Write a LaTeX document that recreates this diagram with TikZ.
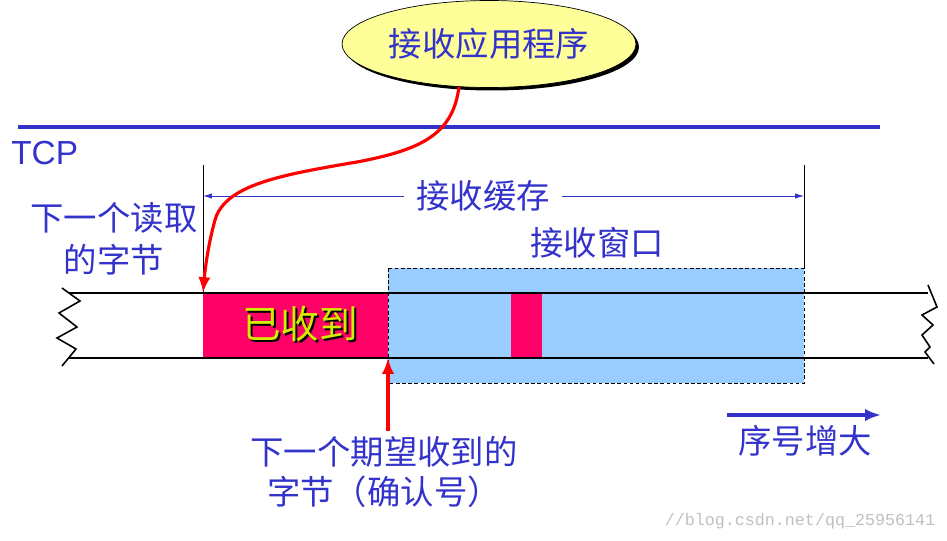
\documentclass[tikz,border=0pt]{standalone}
\usepackage{fontspec}
\setmainfont{Liberation Sans}
\setmonofont{Liberation Mono}
\newfontfamily\cjk{Noto Sans CJK SC}
\usetikzlibrary{shapes.geometric,arrows.meta}

\definecolor{txtblue}{RGB}{51,51,204}
\definecolor{recvred}{RGB}{255,0,102}
\definecolor{winblue}{RGB}{153,204,255}
\definecolor{appyellow}{RGB}{255,255,153}
\definecolor{gotyellow}{RGB}{210,235,0}

\newcommand{\shadowtext}[1]{\makebox[0pt][l]{\hspace{1.2pt}\raisebox{-1.5pt}{\color{black}#1}}#1}

\begin{document}
\begin{tikzpicture}[x=0.02cm,y=-0.02cm,
  cjktext/.style={text=txtblue,font=\cjk\fontsize{19}{23.8}\selectfont,inner sep=0pt},
  appnode/.style={ellipse,minimum width=5.88cm,minimum height=1.74cm},
  redarrow/.style={red,line width=1.8pt,-{Latex[length=9pt,width=7pt]}},
  zig/.style={black,line width=0.9pt}]
\useasboundingbox (0,0) rectangle (947,541);

% receiving application
\node[appnode,fill=black] (appshadow) at (492,47) {};
\node[appnode,draw=black,fill=appyellow,cjktext] (app) at (489,44) {接收应用程序};

\draw[txtblue,line width=2.4pt] (18,127) -- (880,127);
\node[text=txtblue,font=\fontsize{19}{22}\selectfont,anchor=west,inner sep=0pt] (tcp) at (11,153) {TCP};

% buffer
\coordinate (bufstart) at (203,293);
\coordinate (ackhead) at (388,358);
\coordinate (acktail) at (388,431);

\fill[winblue] (388,268) rectangle (804,383);
\fill[recvred] (203,293) rectangle (388,358);
\fill[recvred] (511,293) rectangle (542,358);

\draw[line width=0.6pt] (69,293) -- (928,293);
\draw[line width=0.6pt] (68,358) -- (928,358);
\draw[line width=0.5pt,dash pattern=on 2pt off 1.5pt] (388,268) rectangle (804,383);

\draw[zig] (62,288) -- (80,301) -- (59,313) -- (77,327) -- (57,338) -- (76,349) -- (62,366);
\draw[zig] (928,285) -- (937,307) -- (922,315) -- (933,325) -- (922,335) -- (930,347) -- (925,352) -- (934,364);

\draw[line width=0.5pt] (203,165) -- (bufstart);
\draw[line width=0.5pt] (804,165) -- (804,268);
\coordinate (bufL) at (203,196);
\coordinate (bufR) at (804,196);
\draw[txtblue,line width=0.5pt,{Latex[length=5pt,width=3pt]}-{Latex[length=5pt,width=3pt]}] (bufL) -- (bufR);
\node[cjktext,fill=white,inner xsep=0.25cm] (buflabel) at (483,196) {接收缓存};
\node[cjktext] (winlabel) at (597,243) {接收窗口};

\node[cjktext,align=center] (nextread) at (114,239) {下一个读取\\的字节};

\node[text=gotyellow,font=\cjk\fontsize{22}{26}\selectfont,inner sep=0pt] (got) at (300,325) {\shadowtext{已收到}};

% pointers
\draw[redarrow] (app.235) .. controls (453,135) and (420,150) .. (357,162)
  .. controls (280,175) and (225,185) .. (215,220)
  .. controls (208,245) and (205,270) .. (bufstart);
\draw[redarrow] (acktail) -- (ackhead);
\node[cjktext,align=center,font=\cjk\fontsize{19}{22.7}\selectfont] (acklabel) at (384,472) {下一个期望收到的\\字节（确认号）};

\coordinate (seqL) at (727,415);
\coordinate (seqR) at (881,415);
\draw[txtblue,line width=2.3pt,-{Latex[length=9pt,width=7pt]}] (seqL) -- (seqR);
\node[cjktext] (seqlabel) at (805,441) {序号增大};

\node[text=black!25,font=\ttfamily\fontsize{9.5}{11}\selectfont,inner sep=0pt] (mark) at (800,521) {//blog.csdn.net/qq\_25956141};

\end{tikzpicture}
\end{document}
